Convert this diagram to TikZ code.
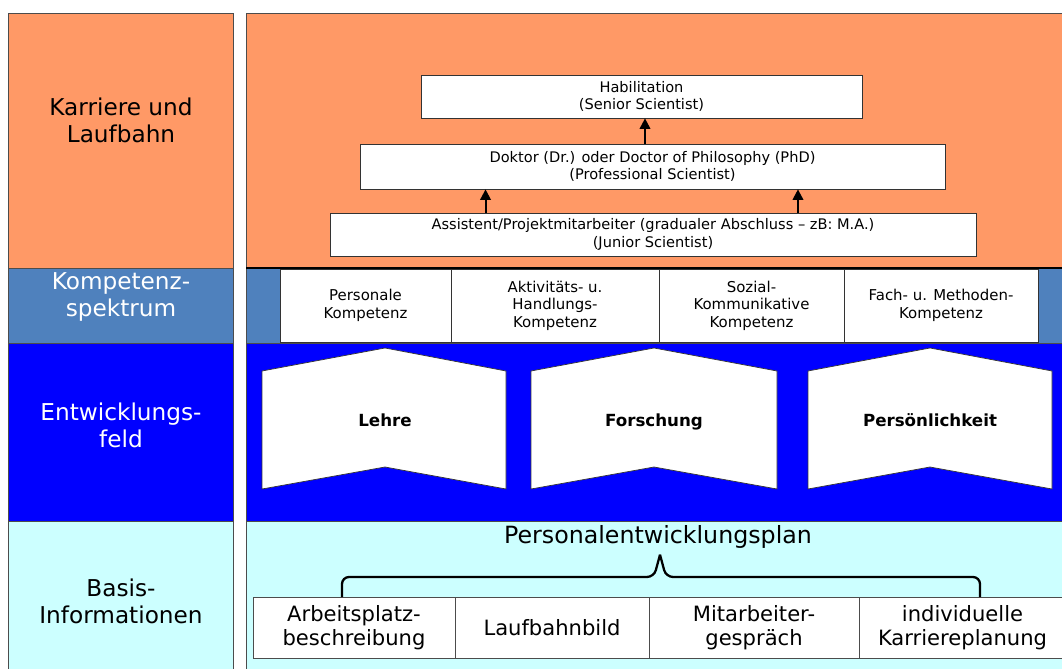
\documentclass[tikz,border=0pt]{standalone}
\usepackage{fontspec}
\setmainfont{DejaVu Sans}
\usepackage{tikz}
\usetikzlibrary{positioning,arrows.meta}
\definecolor{karriere}{HTML}{FF9966}
\definecolor{kompetenz}{HTML}{4F81BD}
\definecolor{feld}{HTML}{0000FF}
\definecolor{basis}{HTML}{CCFFFF}

\tikzset{
  row/.style={draw=black!70, line width=0.5pt},
  lab/.style={align=center, font=\fontsize{13.2}{15.5}\selectfont},
  size/.style 2 args={minimum width=#1*0.02cm, minimum height=#2*0.02cm},
  stufe/.style={draw=black!80, fill=white, inner sep=0pt, align=center,
    font=\fontsize{8.3}{10}\selectfont},
  komp/.style={draw=black!80, fill=white, inner sep=0pt, align=center,
    font=\fontsize{8.5}{10}\selectfont},
  info/.style={draw=black!70, fill=white, inner sep=0pt, align=center,
    font=\fontsize{12}{14}\selectfont},
  feldbox/.style={draw=black!80, fill=white, line width=0.4pt},
  feldtext/.style={font=\bfseries\fontsize{9.5}{11}\selectfont,
    text height=1.6ex, text depth=0.3ex},
  up/.style={-{Triangle[length=6pt,width=6pt]}, line width=1.1pt},
}

\begin{document}
\begin{tikzpicture}[x=0.02cm, y=-0.02cm]
        \useasboundingbox (0,0) rectangle (1062,669);
        \clip (0,0) rectangle (1062,669);

        % left column
        \draw[row, fill=karriere]  (8,13)  rectangle (233,268);
        \draw[row, fill=kompetenz] (8,268) rectangle (233,343);
        \draw[row, fill=feld]      (8,343) rectangle (233,521);
        \draw[row, fill=basis]     (8,521) rectangle (233,680);

        \node[lab] (karr) at (121,120) {Karriere und\\Laufbahn};
        \node[lab, text=white] (komp) at (121,297) {Kompetenz-\\spektrum};
        \node[lab, text=white] (feld) at (121,425) {Entwicklungs-\\feld};
        \node[lab] (basis) at (121,601) {Basis-\\Informationen};

        % right panel
        \draw[row, fill=karriere]  (246,13)  rectangle (1070,268);
        \draw[row, fill=kompetenz] (246,268) rectangle (1070,343);
        \draw[row, fill=feld]      (246,343) rectangle (1070,521);
        \draw[row, fill=basis]     (246,521) rectangle (1070,680);
        \draw[line width=1pt] (246,268) -- (1070,268);

        % Karriere und Laufbahn
        \node[stufe, size={441}{43}] (habil) at (641.5,96.5)
          {Habilitation\\(Senior Scientist)};
        \node[stufe, size={585}{45}] (doktor) at (652.5,166.5)
          {Doktor (Dr.) oder Doctor of Philosophy (PhD)\\(Professional Scientist)};
        \node[stufe, size={646}{43}] (assist) at (653,234.5)
          {Assistent/Projektmitarbeiter (gradualer Abschluss -- zB: M.A.)\\(Junior Scientist)};

        \draw[up] ([xshift=-0.15cm]doktor.north) -- ([xshift=-0.15cm]doktor.north |- habil.south);
        \draw[up] ([xshift=-3.35cm]assist.north) -- ([xshift=-3.35cm]assist.north |- doktor.south);
        \draw[up] ([xshift=2.9cm]assist.north) -- ([xshift=2.9cm]assist.north |- doktor.south);

        % Kompetenzspektrum
        \node[komp, size={171}{73}] (pers) at (365.5,305.5) {Personale\\Kompetenz};
        \node[komp, size={208}{73}] (akt) at (555,305.5)
          {Aktivitäts- u.\\Handlungs-\\Kompetenz};
        \node[komp, size={185}{73}] (sozial) at (751.5,305.5)
          {Sozial-\\Kommunikative\\Kompetenz};
        \node[komp, size={194}{73}] (fach) at (941,305.5)
          {Fach- u. Methoden-\\Kompetenz};

        % Entwicklungsfeld
        \draw[feldbox] (262,371) -- (385,348) -- (506,371) -- (506,489)
          -- (385,467) -- (262,489) -- cycle;
        \draw[feldbox] (531,371) -- (654,348) -- (777,371) -- (777,489)
          -- (654,467) -- (531,489) -- cycle;
        \draw[feldbox] (808,371) -- (930,348) -- (1052,371) -- (1052,489)
          -- (930,467) -- (808,489) -- cycle;
        \node[feldtext] (lehre) at (385,420) {Lehre};
        \node[feldtext] (forsch) at (654,420) {Forschung};
        \node[feldtext] (persk) at (930,420) {Persönlichkeit};

        % Basis-Informationen
        \node[font=\fontsize{13.5}{16}\selectfont] (plan) at (658,537)
          {Personalentwicklungsplan};
        \node[info, size={202}{61}] (arbeit) at (354,627.5) {Arbeitsplatz-\\beschreibung};
        \node[info, size={194}{61}] (laufb) at (552,627.5) {Laufbahnbild};
        \node[info, size={210}{61}] (mitarb) at (754,627.5) {Mitarbeiter-\\gespräch};
        \node[info, size={207}{61}] (karrp) at (962.5,627.5) {individuelle\\Karriereplanung};

        \coordinate (bl) at (342,597);
        \coordinate (br) at (980,597);
        \coordinate (bm) at (660,577);
        \draw[line width=1.3pt, rounded corners=4pt]
          (bl) |- ([xshift=-0.12cm]bm) -- (plan.south -| bm);
        \draw[line width=1.3pt, rounded corners=4pt]
          (br) |- ([xshift=0.12cm]bm) -- (plan.south -| bm);
      \end{tikzpicture}
\end{document}
